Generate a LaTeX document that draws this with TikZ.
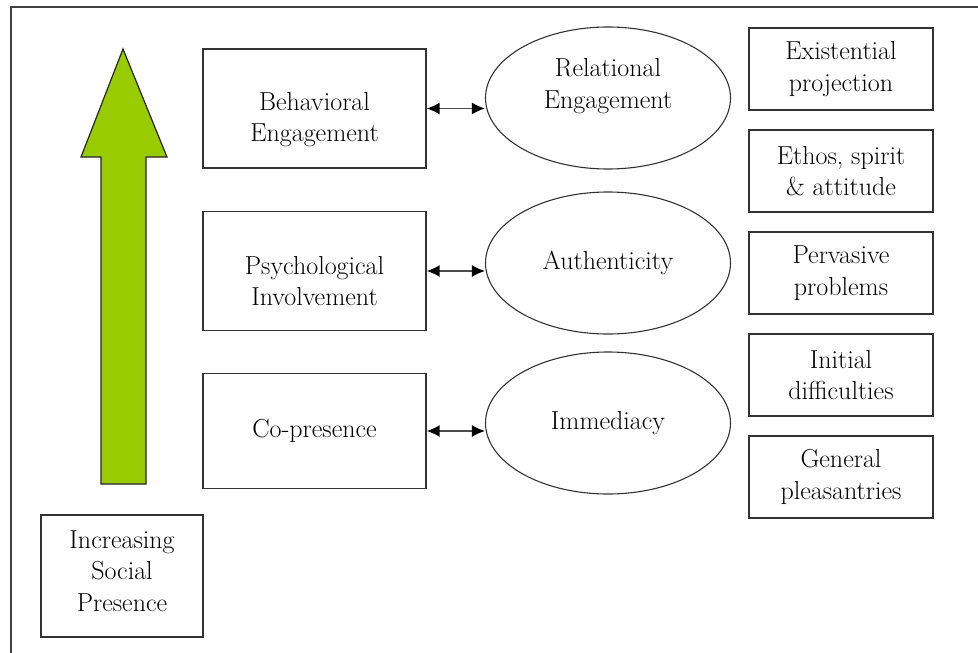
\documentclass[tikz,border=0pt]{standalone}
\usetikzlibrary{arrows.meta,shapes.geometric}
\begin{document}
\begin{tikzpicture}[x=1pt,y=-1pt,
  every node/.style={font=\fontsize{26}{31.5}\selectfont, text=black, align=center, inner sep=0pt},
  rbox/.style={draw=black!80, line width=1.3pt, rectangle, minimum width=#1},
  tall/.style={minimum height=119pt},
  small/.style={rbox=184pt, minimum height=82pt},
  oval/.style={draw=black!80, line width=1.1pt, ellipse, minimum width=245pt, minimum height=142pt},
  dbl/.style={draw=black!70, line width=1.5pt, arrows={Latex[length=13pt,width=12pt,black]-Latex[length=13pt,width=12pt,black]}}
]
\useasboundingbox (0,0) rectangle (978,653);
\fill[white] (0,0) rectangle (978,653);
% frame
\draw[black!75, line width=1.5pt] (978,7) -- (11,7) -- (11,653);
% green arrow
\draw[draw=black!85, line width=1.2pt, fill={rgb,255:red,153;green,204;blue,0}, line join=miter]
  (123,49) -- (167,157) -- (146,157) -- (146,484) -- (101,484) -- (101,157) -- (81,157) -- cycle;
% left box
\node[rbox=162pt, minimum height=122pt] (isp) at (122,576) {};
\node at ([yshift=5pt]isp.center) {Increasing\\Social\\Presence};
% middle boxes
\node[rbox=223pt, tall] (b1) at (314.5,108.5) {};
\node at ([yshift=-11pt]b1.center) {Behavioral\\Engagement};
\node[rbox=223pt, tall] (b2) at (314.5,271) {};
\node at ([yshift=-10pt]b2.center) {Psychological\\Involvement};
\node[rbox=223pt, minimum height=115pt] (b3) at (314.5,431) {Co-presence};
% ellipses
\node[oval] (e1) at (608,98) {};
\node at ([yshift=12pt]e1.center) {Relational\\Engagement};
\node[oval] (e2) at (608,263) {Authenticity};
\node[oval] (e3) at (608,423) {Immediacy};
% connectors
\draw[dbl] (b1.east) -- (e1.west |- b1.east);
\draw[dbl] (b2.east) -- (e2.west |- b2.east);
\draw[dbl] (b3.east) -- (e3.west |- b3.east);
% right boxes
\node[small] (r1) at (841,69) {Existential\\projection};
\node[small] (r2) at (841,171) {Ethos, spirit\\\& attitude};
\node[small] (r3) at (841,273) {Pervasive\\problems};
\node[small] (r4) at (841,375) {Initial\\difficulties};
\node[small] (r5) at (841,477) {General\\pleasantries};
\end{tikzpicture}
\end{document}
